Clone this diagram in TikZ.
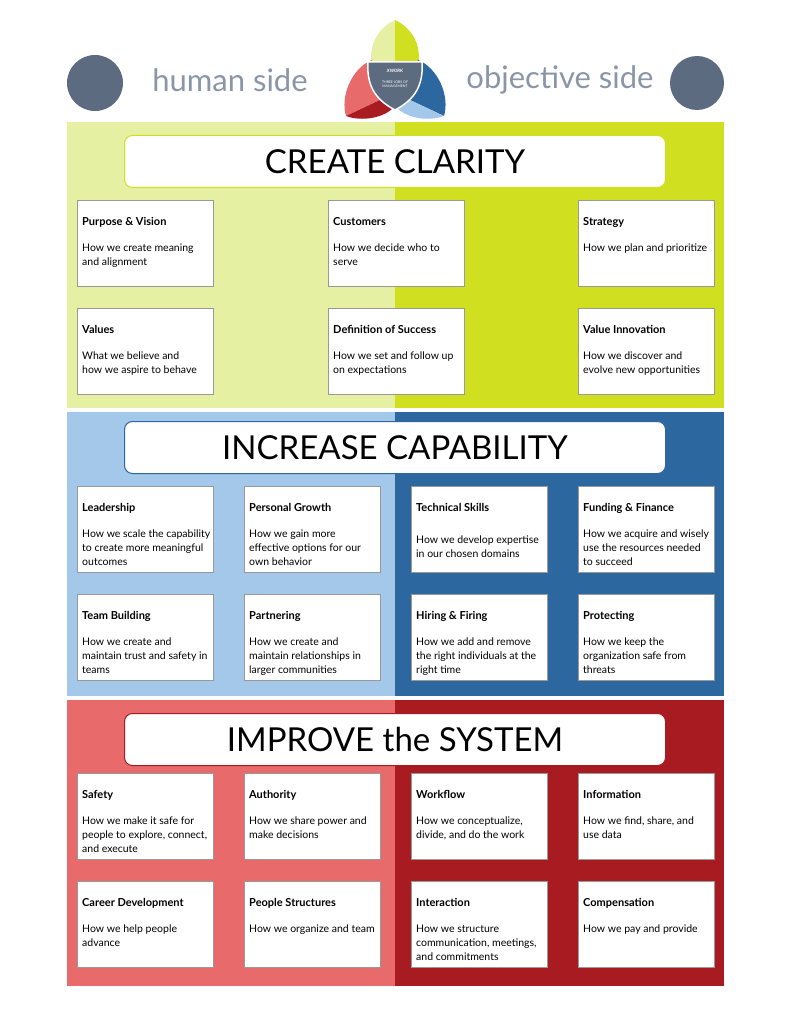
\documentclass[tikz,border=0pt]{standalone}
\usepackage{fontspec}
\setmainfont{Lato}
\definecolor{lgreen}{HTML}{E6F0A2}
\definecolor{dgreen}{HTML}{D0E021}
\definecolor{lblue}{HTML}{A3C8E9}
\definecolor{dblue}{HTML}{2D67A0}
\definecolor{lred}{HTML}{E86A6A}
\definecolor{dred}{HTML}{A81B20}
\definecolor{slate}{HTML}{5C6B80}
\definecolor{greytext}{HTML}{8A96A8}
\hyphenpenalty=10000
\exhyphenpenalty=10000
\tikzset{
  card/.style={draw=black!40, fill=white, minimum width=136pt, minimum height=86pt, anchor=north west, inner sep=0pt},
  ctitle/.style={anchor=north west, font=\fontsize{11}{13}\selectfont\bfseries, inner sep=0pt},
  ctext/.style={anchor=north west, font=\fontsize{10.5}{14}\selectfont, text width=128pt, align=flush left, inner sep=0pt},
  banner/.style={draw=#1, line width=1pt, fill=white, rounded corners=8pt, minimum width=541pt, minimum height=52pt, anchor=north west, font=\fontsize{33}{36}\selectfont},
  side/.style={font=\fontsize{31}{34}\selectfont, text=greytext}
}
\newcommand{\card}[6][44]{%
  \node[card] (#2) at (#3,#4) {};
  \node[ctitle] (#2t) at ([shift={(5pt,-17pt)}]#2.north west) {#5};
  \node[ctext] (#2d) at ([shift={(5pt,-#1pt)}]#2.north west) {#6};
}
\begin{document}
\begin{tikzpicture}[x=1pt, y=-1pt]
\useasboundingbox (0,0) rectangle (791,1024);
% header
\node[circle, fill=slate, minimum size=56pt] (hicon) at (95,83) {};
\node[circle, fill=slate, minimum size=54pt] (oicon) at (697,83) {};
\node[side] (human) at (230,80) {human side};
\node[side] (objective) at (560,80) {objective side};
% logo
\fill[lgreen] (395,20) .. controls (378,28) and (368,45) .. (372,66) -- (395,66) -- cycle;
\fill[dgreen] (395,20) .. controls (412,28) and (422,45) .. (418,66) -- (395,66) -- cycle;
\fill[lred] (372,60) .. controls (352,68) and (340,96) .. (346,116) -- (380,100) -- cycle;
\fill[dred] (346,116) .. controls (362,122) and (385,118) .. (395,106) -- (380,100) -- cycle;
\fill[dblue] (418,60) .. controls (438,68) and (450,96) .. (444,116) -- (410,100) -- cycle;
\fill[lblue] (444,116) .. controls (428,122) and (405,118) .. (395,106) -- (410,100) -- cycle;
\draw[white, line width=1.5pt, fill=slate] (368,62) -- (422,62) .. controls (424,90) and (410,102) .. (395,110) .. controls (380,102) and (366,90) .. (368,62) -- cycle;
\node[white, font=\fontsize{4.5}{5}\selectfont\bfseries\itshape] (logotop) at (395,71) {XWORK};
\node[white, font=\fontsize{3.5}{4.5}\selectfont, align=center] (logotext) at (395,84) {THREE JOBS OF\\MANAGEMENT};
% sections
\fill[lgreen] (67,122) rectangle (395,408);
\fill[dgreen] (395,122) rectangle (724,408);
\fill[lblue] (67,412) rectangle (395,696);
\fill[dblue] (395,412) rectangle (724,696);
\fill[lred] (67,700) rectangle (395,986);
\fill[dred] (395,700) rectangle (724,986);
\node[banner=dgreen] (clarity) at (124,135) {CREATE CLARITY};
\node[banner=dblue] (capability) at (124,421) {INCREASE CAPABILITY};
\node[banner=dred] (system) at (124,713) {IMPROVE the SYSTEM};
% create clarity
\card{purpose}{77}{200}{Purpose \& Vision}{How we create meaning and alignment}
\card{customers}{328}{200}{Customers}{How we decide who to serve}
\card{strategy}{578}{200}{Strategy}{How we plan and prioritize}
\card{values}{77}{308}{Values}{What we believe and\\how we aspire to behave}
\card{success}{328}{308}{Definition of Success}{How we set and follow up on expectations}
\card{innovation}{578}{308}{Value Innovation}{How we discover and evolve new opportunities}
% increase capability
\card{leadership}{77}{486}{Leadership}{How we scale the capability to create more meaningful outcomes}
\card{growth}{244}{486}{Personal Growth}{How we gain more effective options for our own behavior}
\card[50]{technical}{411}{486}{Technical Skills}{How we develop expertise in our chosen domains}
\card{funding}{578}{486}{Funding \& Finance}{How we acquire and wisely use the resources needed to succeed}
\card{team}{77}{594}{Team Building}{How we create and maintain trust and safety in teams}
\card{partnering}{244}{594}{Partnering}{How we create and maintain relationships in larger communities}
\card{hiring}{411}{594}{Hiring \& Firing}{How we add and remove the right individuals at the right time}
\card{protecting}{578}{594}{Protecting}{How we keep the organization safe from threats}
% improve the system
\card{safety}{77}{773}{Safety}{How we make it safe for people to explore, connect, and execute}
\card{authority}{244}{773}{Authority}{How we share power and make decisions}
\card{workflow}{411}{773}{Workflow}{How we conceptualize, divide, and do the work}
\card{information}{578}{773}{Information}{How we find, share, and use data}
\card{career}{77}{881}{Career Development}{How we help people advance}
\card{structures}{244}{881}{People Structures}{How we organize and team}
\card{interaction}{411}{881}{Interaction}{How we structure communication, meetings, and commitments}
\card{compensation}{578}{881}{Compensation}{How we pay and provide}
\end{tikzpicture}
\end{document}
